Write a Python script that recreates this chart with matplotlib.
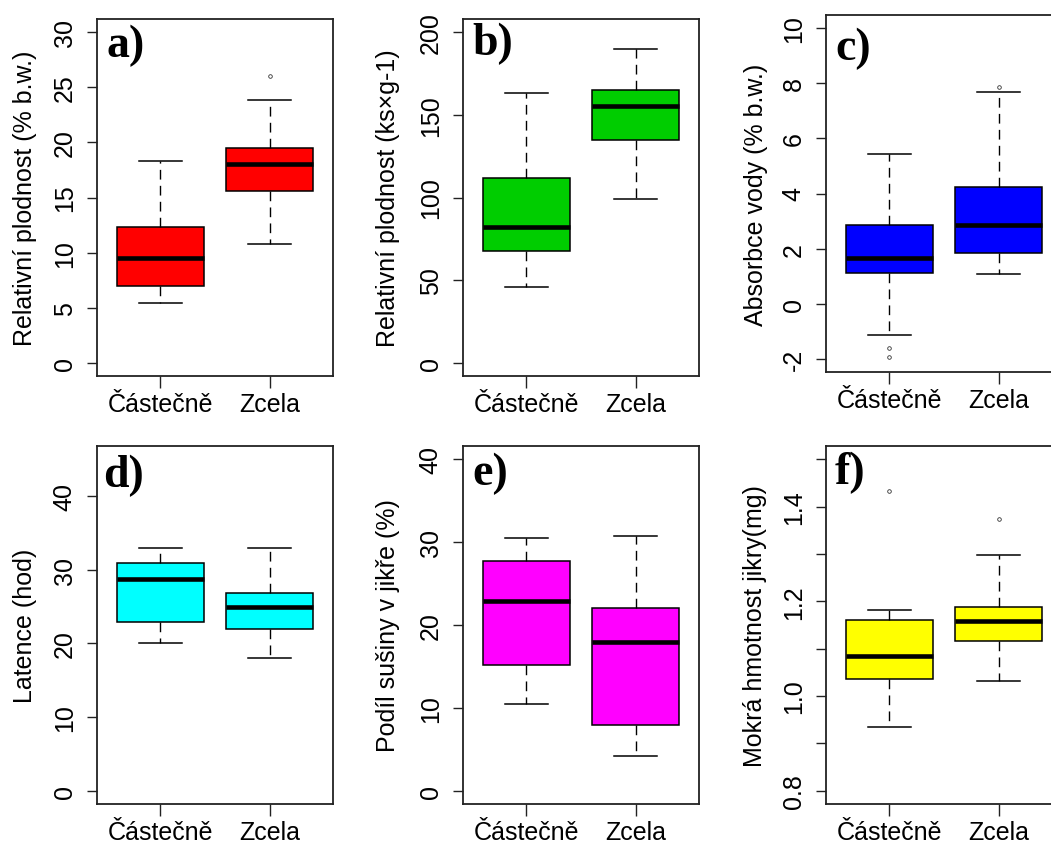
import matplotlib
matplotlib.use("Agg")
import matplotlib.pyplot as plt
import numpy as np

plt.rcParams['font.family'] = ['Liberation Sans', 'DejaVu Sans']

W, H = 1051, 845

groups = ["Částečně", "Zcela"]
letters = ["a)", "b)", "c)", "d)", "e)", "f)"]
ylabels = ["Relativní plodnost (% b.w.)",
           "Relativní plodnost (ks×g-1)",
           "Absorbce vody (% b.w.)",
           "Latence (hod)",
           "Podíl sušiny v jikře (%)",
           "Mokrá hmotnost jikry(mg)"]
colors = ["#FF0000", "#00CD00", "#0000FF", "#00FFFF", "#FF00FF", "#FFFF00"]

# box statistics per panel: [Částečně, Zcela]
whislo = [[5.4, 10.8], [45.6, 99.3], [-1.15, 1.07], [20.0, 18.0], [10.5, 4.15], [0.935, 1.032]]
q1     = [[7.0, 15.6], [67.5, 135.0], [1.12, 1.83], [22.9, 22.0], [15.2, 7.9], [1.036, 1.116]]
med    = [[9.5, 18.0], [82.4, 155.4], [1.65, 2.85], [28.8, 24.9], [22.9, 18.0], [1.085, 1.158]]
q3     = [[12.3, 19.5], [112.0, 165.0], [2.84, 4.22], [30.9, 26.9], [27.7, 22.1], [1.161, 1.188]]
whishi = [[18.3, 23.85], [163.0, 190.0], [5.43, 7.68], [32.9, 32.9], [30.5, 30.8], [1.181, 1.297]]
fliers = [[[], [26.0]], [[], []], [[-1.62, -1.94], [7.85]], [[], []], [[], []], [[1.432], [1.373]]]

ylims = [(0, 30), (0, 200), (-2, 10), (0, 45), (0, 40), (0.8, 1.5)]
yticks = [np.arange(0, 31, 5), np.arange(0, 201, 50), np.arange(-2, 11, 2),
          np.arange(0, 41, 10), np.arange(0, 41, 10), np.arange(0.8, 1.51, 0.1)]
ytlabels = [None, None, None, None, None,
            ["0.8", "", "1.0", "", "1.2", "", "1.4", ""]]

# axes boxes in pixels (x0, y0, x1, y1) from top-left
boxes = [(97, 20, 333, 377), (463, 20, 699, 377), (826, 16, 1062, 373),
         (97, 447, 333, 805), (463, 447, 699, 805), (826, 447, 1062, 805)]
letter_pos = [(106, 57), (472, 55), (835, 60), (103, 487), (472, 485), (835, 484)]
ylab_x = [25, 388, 756, 25, 388, 755]

fig = plt.figure(figsize=(W / 100, H / 100), dpi=100)

for i in range(6):
    x0, y0, x1, y1 = boxes[i]
    ax = fig.add_axes([x0 / W, 1 - y1 / H, (x1 - x0) / W, (y1 - y0) / H])
    stats = []
    for g in range(2):
        stats.append(dict(med=med[i][g], q1=q1[i][g], q3=q3[i][g],
                          whislo=whislo[i][g], whishi=whishi[i][g],
                          fliers=fliers[i][g], label=groups[g]))
    ax.bxp(stats, positions=[1, 2], widths=0.8, capwidths=0.4,
           patch_artist=True,
           boxprops=dict(facecolor=colors[i], edgecolor="black", linewidth=1.1),
           medianprops=dict(color="black", linewidth=3.3, solid_capstyle="butt"),
           whiskerprops=dict(color="black", linewidth=1.0, linestyle=(0, (7, 4.5))),
           capprops=dict(color="black", linewidth=1.1),
           flierprops=dict(marker="o", markersize=2.6, markerfacecolor="none",
                           markeredgecolor="#333333", markeredgewidth=0.6))
    lo, hi = ylims[i]
    r = hi - lo
    ax.set_ylim(lo - 0.04 * r, hi + 0.04 * r)
    ax.set_xlim(0.42, 2.58)
    ax.set_yticks(yticks[i])
    if ytlabels[i] is not None:
        ax.set_yticklabels(ytlabels[i])
    else:
        ax.set_yticklabels([("%g" % v) for v in yticks[i]])
    ax.set_xticks([1, 2])
    ax.set_xticklabels(groups)
    for s in ax.spines.values():
        s.set_linewidth(1.3)
        s.set_color("#222222")
    ax.tick_params(axis="y", direction="out", length=7.5, width=1.0, pad=7,
                   labelsize=18, labelrotation=90, color="#222222")
    for t in ax.get_yticklabels():
        t.set_va("center")
    ax.tick_params(axis="x", direction="out", length=8.5, width=1.0, pad=3,
                   labelsize=18, color="#222222")
    ax.set_ylabel(ylabels[i], fontsize=18)
    ax.yaxis.set_label_coords((ylab_x[i] - x0) / (x1 - x0), 0.5)
    ax.yaxis.label.set_va("center")
    lx, ly = letter_pos[i]
    fig.text(lx / W, 1 - ly / H, letters[i], ha="left", va="baseline",
             fontsize=33, fontweight="bold", family="Liberation Serif")

fig.savefig("out.png", dpi=100)
